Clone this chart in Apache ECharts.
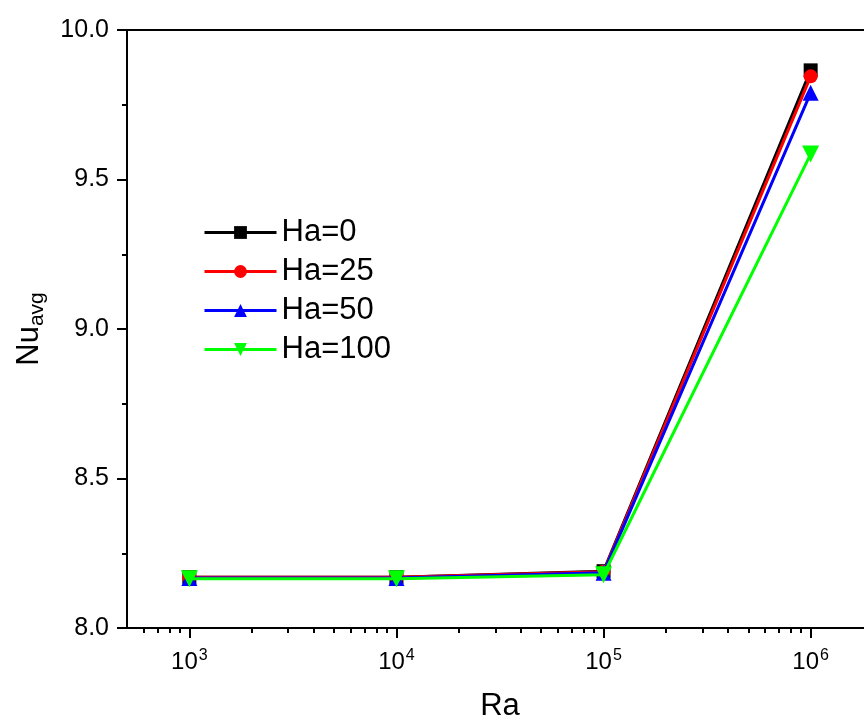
<!DOCTYPE html>
<html>
<head>
<meta charset="utf-8">
<script src="https://cdn.jsdelivr.net/npm/echarts@6/dist/echarts.min.js"></script>
<style>
html, body { margin: 0; padding: 0; background: #fff; }
#chart { width: 864px; height: 722px; }
</style>
</head>
<body>
<div id="chart"></div>
<script>
var raValues = [1e3, 1e4, 1e5, 1e6];
var seriesNames = ['Ha=0', 'Ha=25', 'Ha=50', 'Ha=100'];
var nuHa0 = [8.170, 8.170, 8.190, 9.865];
var nuHa25 = [8.170, 8.170, 8.188, 9.845];
var nuHa50 = [8.167, 8.167, 8.185, 9.790];
var nuHa100 = [8.165, 8.165, 8.178, 9.585];
var majorExp = [3, 4, 5, 6];
var yTicks = [8.0, 8.5, 9.0, 9.5, 10.0];

var colors = ['#000000', '#ff0000', '#0000ff', '#00ff00'];
var symbols = ['rect', 'circle', 'triangle', 'triangle'];
var symbolSizes = [14, 14, 16, 17];
var symbolRotates = [0, 0, 0, 180];

// minor ticks of a log axis (2..9 x 10^n), in log10 space
var minorTicks = [];
for (var e = 2; e <= 6; e++) {
    for (var k = 2; k <= 9; k++) {
        var v = Math.log10(k * Math.pow(10, e));
        if (v > Math.log10(500) && v < Math.log10(2e6)) minorTicks.push(v);
    }
}

var myChart = echarts.init(document.getElementById('chart'));

function pairs(ys) {
    return ys.map(function (y, i) {
        return [Math.log10(raValues[i]), y];
    });
}

var allData = [nuHa0, nuHa25, nuHa50, nuHa100];
var series = [];
for (var i = 0; i < allData.length; i++) {
    series.push({
        name: seriesNames[i],
        type: 'line',
        data: pairs(allData[i]),
        symbol: symbols[i],
        symbolSize: symbolSizes[i],
        symbolRotate: symbolRotates[i],
        lineStyle: { color: colors[i], width: 3 },
        itemStyle: { color: colors[i] },
        z: 2 + i
    });
}

var xMin = Math.log10(500), xMax = Math.log10(2e6);

var option = {
    backgroundColor: '#ffffff',
    animation: false,
    grid: {
        left: 127,
        top: 30,
        width: 746,
        height: 598,
        outerBoundsMode: 'none',
        containLabel: false,
        show: true,
        borderColor: '#000',
        borderWidth: 2
    },
    legend: {
        orient: 'vertical',
        left: 198,
        top: 212,
        itemWidth: 72,
        itemHeight: 16,
        itemGap: 8,
        lineStyle: { width: 3 },
        textStyle: {
            fontFamily: 'Liberation Sans, Arial',
            fontSize: 31,
            lineHeight: 31,
            color: '#000'
        },
        data: seriesNames
    },
    xAxis: [{
        type: 'value',
        min: xMin,
        max: xMax,
        name: 'Ra',
        nameLocation: 'middle',
        nameGap: 63,
        nameTextStyle: { fontFamily: 'Liberation Sans, Arial', fontSize: 31, color: '#000' },
        axisLine: { lineStyle: { color: '#000', width: 2 } },
        axisTick: { show: true, length: 10, lineStyle: { color: '#000', width: 2 }, customValues: majorExp },
        splitLine: { show: false },
        axisLabel: {
            customValues: majorExp,
            margin: 20,
            formatter: function (v) {
                return '{b|10}{s|' + Math.round(v) + '}';
            },
            rich: {
                b: { fontFamily: 'Liberation Sans, Arial', fontSize: 24, color: '#000' },
                s: { fontFamily: 'Liberation Sans, Arial', fontSize: 16, color: '#000', verticalAlign: 'top', padding: [0, 0, 12, 1] }
            }
        }
    }, {
        type: 'value',
        min: xMin,
        max: xMax,
        position: 'bottom',
        axisLine: { show: false },
        axisLabel: { show: false },
        splitLine: { show: false },
        axisTick: { show: true, length: 5, lineStyle: { color: '#000', width: 2 }, customValues: minorTicks }
    }],
    yAxis: {
        type: 'value',
        min: yTicks[0],
        max: yTicks[yTicks.length - 1],
        interval: 0.5,
        name: '{n|Nu}{s|avg}',
        nameLocation: 'middle',
        nameGap: 79,
        nameTextStyle: {
            rich: {
                n: { fontFamily: 'Liberation Sans, Arial', fontSize: 31, color: '#000' },
                s: { fontFamily: 'Liberation Sans, Arial', fontSize: 21, color: '#000', padding: [16, 0, 0, 0] }
            }
        },
        axisLine: { lineStyle: { color: '#000', width: 2 } },
        axisTick: { length: 10, lineStyle: { color: '#000', width: 2 } },
        minorTick: { show: true, splitNumber: 2, length: 5, lineStyle: { color: '#000', width: 2 } },
        splitLine: { show: false },
        axisLabel: {
            margin: 18,
            fontFamily: 'Liberation Sans, Arial',
            fontSize: 25,
            color: '#000',
            formatter: function (v) { return v.toFixed(1); }
        }
    },
    series: series
};

myChart.setOption(option);
</script>
</body>
</html>
